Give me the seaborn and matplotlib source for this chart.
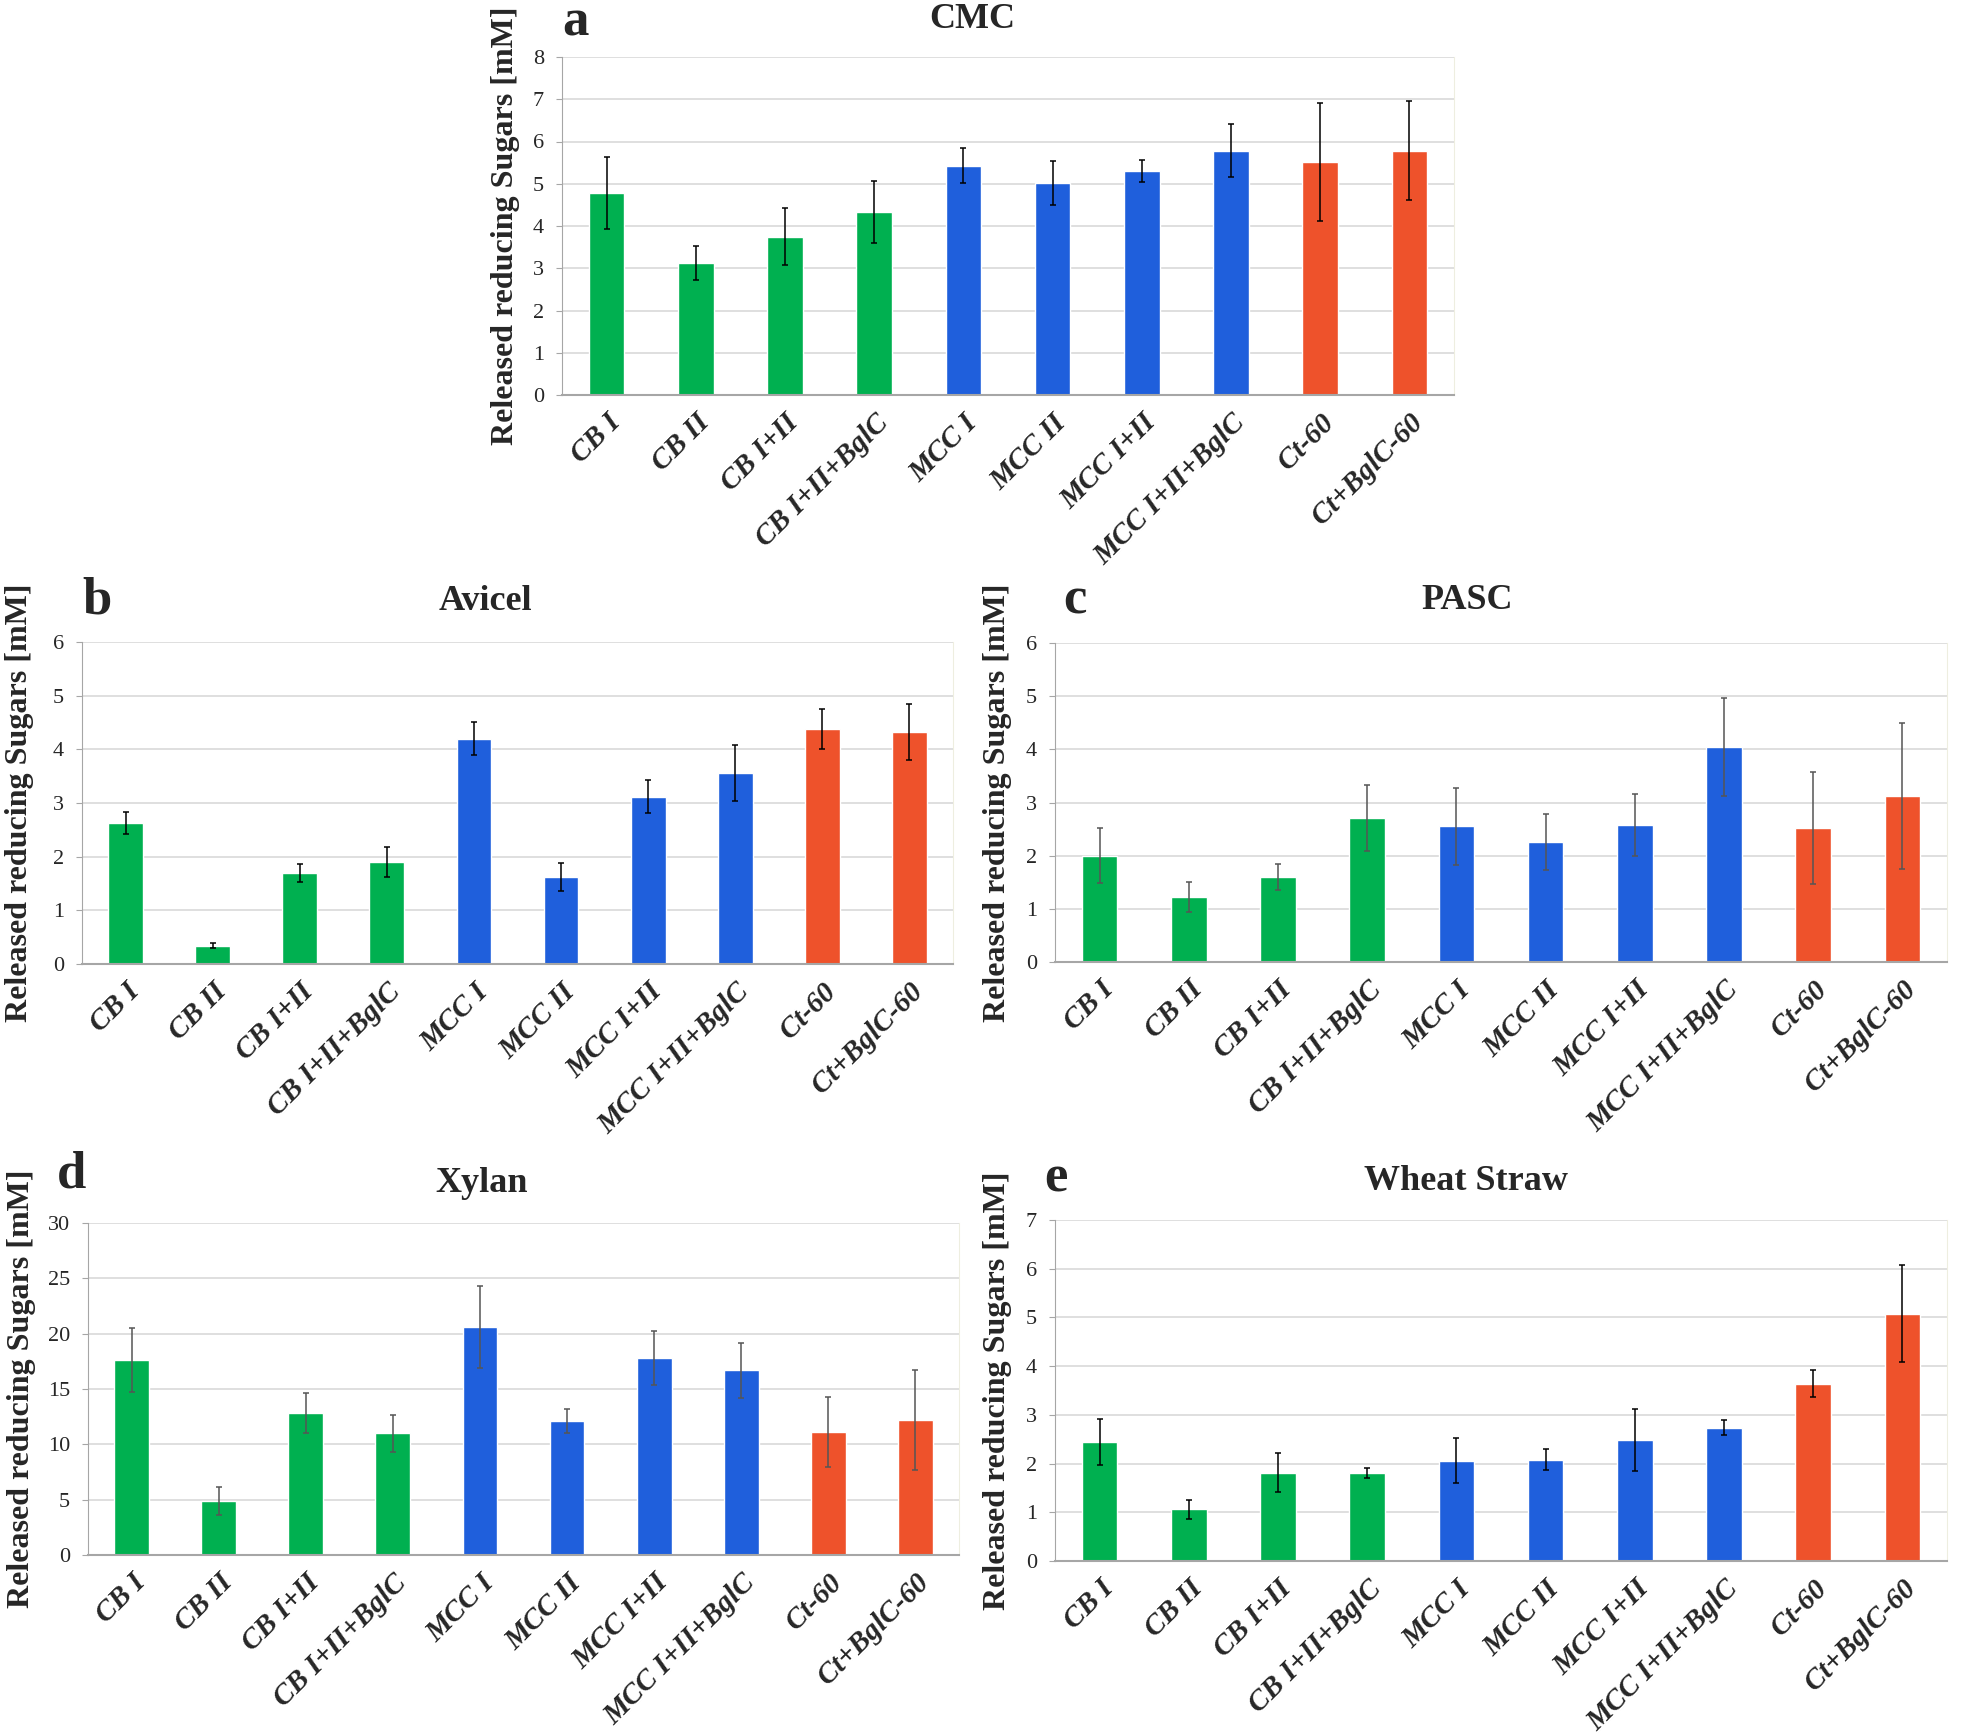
import matplotlib
matplotlib.use('Agg')
import matplotlib.pyplot as plt
import seaborn as sns
import pandas as pd

sns.set_style('white')
plt.rcParams['font.family'] = ['Liberation Serif', 'DejaVu Serif']

# categories and colours
categories = ['CB I', 'CB II', 'CB I+II', 'CB I+II+BglC', 'MCC I', 'MCC II',
              'MCC I+II', 'MCC I+II+BglC', 'Ct-60', 'Ct+BglC-60']
bar_colors = ['#00B050'] * 4 + ['#1F5FDC'] * 4 + ['#EE522B'] * 2

# a - CMC
cmc_vals = [4.78, 3.12, 3.75, 4.33, 5.43, 5.02, 5.30, 5.78, 5.52, 5.78]
cmc_err = [0.85, 0.40, 0.67, 0.73, 0.42, 0.53, 0.27, 0.63, 1.40, 1.17]
# b - Avicel
avicel_vals = [2.63, 0.34, 1.70, 1.90, 4.20, 1.62, 3.12, 3.56, 4.38, 4.32]
avicel_err = [0.20, 0.05, 0.17, 0.28, 0.30, 0.26, 0.30, 0.52, 0.37, 0.52]
# c - PASC
pasc_vals = [2.00, 1.22, 1.60, 2.70, 2.55, 2.26, 2.58, 4.04, 2.52, 3.12]
pasc_err = [0.52, 0.28, 0.24, 0.62, 0.72, 0.53, 0.58, 0.92, 1.05, 1.38]
# d - Xylan
xylan_vals = [17.6, 4.9, 12.8, 11.0, 20.6, 12.1, 17.8, 16.7, 11.1, 12.2]
xylan_err = [2.9, 1.25, 1.8, 1.65, 3.7, 1.05, 2.45, 2.5, 3.15, 4.5]
# e - Wheat Straw
straw_vals = [2.44, 1.06, 1.81, 1.81, 2.06, 2.08, 2.48, 2.74, 3.64, 5.08]
straw_err = [0.47, 0.20, 0.40, 0.10, 0.46, 0.22, 0.63, 0.16, 0.28, 0.99]

W, H = 1961, 1736
fig = plt.figure(figsize=(W / 100, H / 100), dpi=100)

# (letter, title, values, errors, ymax, ystep, axes box px, title pos, letter pos, ylabel x, err color)
panels = [
    ('a', 'CMC', cmc_vals, cmc_err, 8, 1, (562, 57, 1454, 395), (972, 20), (575, 22), 506, 'black'),
    ('b', 'Avicel', avicel_vals, avicel_err, 6, 1, (82, 642, 953, 964), (485, 602), (97, 600), 20, 'black'),
    ('c', 'PASC', pasc_vals, pasc_err, 6, 1, (1055, 643, 1947, 962), (1467, 601), (1075, 601), 998, '#555555'),
    ('d', 'Xylan', xylan_vals, xylan_err, 30, 5, (88, 1223, 959, 1555), (482, 1183), (72, 1175), 22, '#555555'),
    ('e', 'Wheat Straw', straw_vals, straw_err, 7, 1, (1055, 1220, 1947, 1561), (1466, 1181), (1056, 1178), 997, 'black'),
]

for letter, title, vals, errs, ymax, ystep, box, tpos, lpos, ylx, ecol in panels:
    l, t, r, b = box
    ax = fig.add_axes([l / W, 1 - b / H, (r - l) / W, (b - t) / H])
    df = pd.DataFrame({'cat': categories, 'val': vals})
    sns.barplot(data=df, x='cat', y='val', hue='cat', palette=bar_colors,
                legend=False, width=0.4, saturation=1, ax=ax, zorder=2)
    ax.errorbar(range(len(categories)), vals, yerr=errs, fmt='none',
                ecolor=ecol, elinewidth=1.1, capsize=2.5, capthick=1.1, zorder=3)

    ax.set_xlim(-0.5, len(categories) - 0.5)
    ax.set_ylim(0, ymax)
    ax.set_yticks(range(0, ymax + 1, ystep))
    ax.yaxis.grid(True, color='#D9D9D9', linewidth=1.2, zorder=0)
    ax.set_axisbelow(True)

    ax.spines['top'].set_visible(False)
    ax.spines['right'].set_color('#EEEEE0')
    ax.spines['left'].set_color('#A6A6A6')
    ax.spines['bottom'].set_color('#A6A6A6')
    ax.spines['bottom'].set_linewidth(1.5)

    ax.set_xticks(range(len(categories)))
    ax.set_xticklabels(categories, rotation=45, ha='right', rotation_mode='anchor',
                       fontsize=21, fontweight='bold', fontstyle='italic')
    ax.set_xticks([i - 0.5 for i in range(len(categories) + 1)], minor=True)
    ax.tick_params(axis='x', which='major', length=0, pad=10)
    ax.tick_params(axis='x', which='minor', length=8, color='#A6A6A6', width=1.2, direction='out')
    ax.tick_params(axis='y', length=4, color='#A6A6A6', labelsize=16, pad=9, direction='out', left=True)
    ax.set_xlabel('')
    ax.set_ylabel('Released reducing Sugars [mM]', fontsize=23, fontweight='bold')
    ax.yaxis.label.set_va('center')
    ax.yaxis.set_label_coords((ylx - l) / (r - l), 0.5)

    fig.text(tpos[0] / W, 1 - tpos[1] / H, title, fontsize=26, fontweight='bold',
             ha='center', va='center')
    fig.text(lpos[0] / W, 1 - lpos[1] / H, letter, fontsize=38, fontweight='bold',
             ha='center', va='center')

fig.savefig('out.png', dpi=100)
